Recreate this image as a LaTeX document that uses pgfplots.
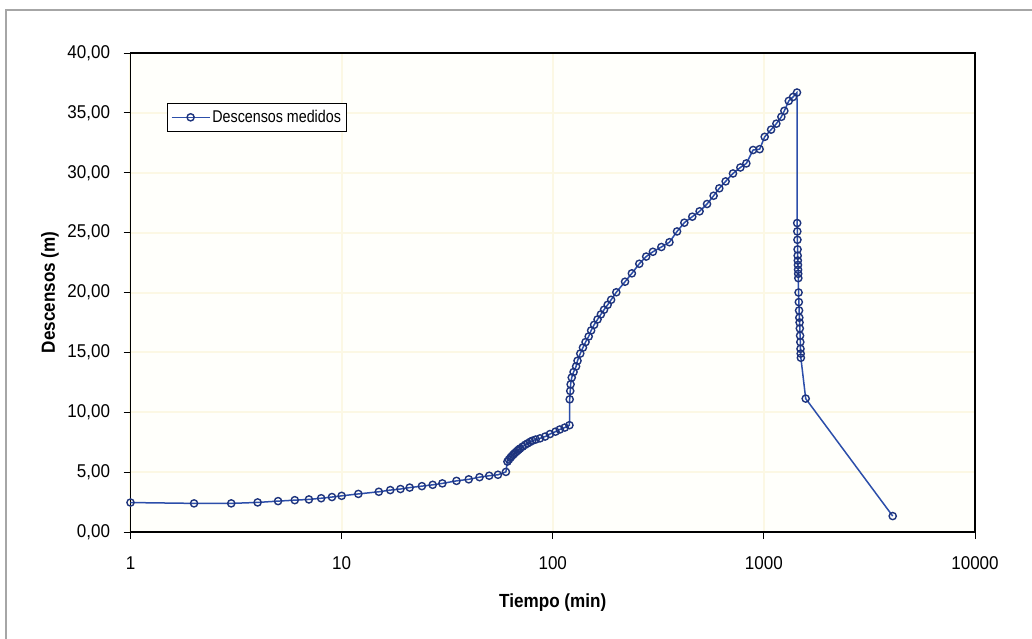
\documentclass[border=0pt]{standalone}
\usepackage{pgfplots}
\pgfplotsset{compat=1.18}
\usepackage{pgfplotstable}
\usepackage{fontspec}
\setmainfont{Liberation Sans}
\newfontfamily\tickfont[FakeStretch=0.92]{Liberation Sans}
\newfontfamily\narrowfont[FakeStretch=0.84]{Liberation Sans}
\newfontfamily\labfont[FakeStretch=0.9]{Liberation Sans}
\definecolor{serieline}{RGB}{44,78,170}
\definecolor{seriemark}{RGB}{30,52,125}
\definecolor{gridy}{RGB}{252,248,228}
\definecolor{bgy}{RGB}{255,255,251}

\pgfplotstableread{
t d
1 2.46
2 2.39
3 2.39
4 2.47
5 2.58
6 2.66
7 2.72
8 2.82
9 2.92
10 3.02
12 3.18
15 3.36
17 3.50
19 3.59
21 3.71
24 3.83
27 3.94
30 4.06
35 4.27
40 4.40
45 4.58
50 4.70
55 4.78
60 5.02
61 5.88
62 6.05
63 6.20
64 6.34
65 6.46
66 6.58
67 6.68
68 6.78
69 6.88
70 6.97
72 7.13
74 7.28
76 7.40
78 7.52
80 7.62
83 7.72
87 7.82
92 7.97
97 8.18
103 8.38
108 8.56
114 8.72
120 8.92
120.3 11.08
121 11.78
121.5 12.33
123 12.90
125.5 13.36
129 13.83
131 14.30
135 14.90
139 15.40
143 15.86
148 16.33
152 16.83
157 17.30
163 17.75
169 18.17
175 18.56
182 18.97
189 19.39
200 20.02
220 20.90
237 21.60
257 22.40
277 23.00
298 23.40
327 23.80
357 24.20
388 25.10
420 25.83
458 26.33
496 26.78
538 27.39
578 28.08
615 28.70
659 29.28
714 29.94
774 30.44
826 30.78
889 31.90
955 31.97
1009 33.00
1082 33.60
1146 34.10
1210 34.67
1250 35.17
1312 36.00
1375 36.33
1435 36.70
1438 25.80
1440 25.10
1442 24.40
1444 23.60
1446 23.08
1448 22.67
1450 22.30
1452 21.90
1454 21.56
1456 21.20
1460 20.00
1464 19.20
1468 18.50
1472 17.90
1476 17.50
1480 17.00
1484 16.40
1488 15.86
1491 15.30
1494 14.90
1497 14.55
1578 11.14
4076 1.33
}\datatable

\begin{document}
\begin{tikzpicture}
\useasboundingbox (-130.5pt,-106pt) rectangle (901.5pt,532pt);
\draw[gray!70, line width=1.5pt] (-124.5pt,-110pt) -- (-124.5pt,522pt) -- (905pt,522pt);
\begin{axis}[
  at={(0pt,0pt)}, anchor=south west,
  scale only axis, width=844.5pt, height=479pt,
  xmode=log, xmin=1, xmax=10000,
  ymin=0, ymax=40,
  xtick={1,10,100,1000,10000},
  xticklabels={1,10,100,1000,10000},
  xminorticks=false,
  ytick={0,5,10,15,20,25,30,35,40},
  yticklabel={\pgfmathprintnumber[fixed,fixed zerofill,precision=2,use comma]{\tick}},
  /pgf/number format/assume math mode=true,
  tick align=outside, major tick length=7pt,
  tick style={black, line width=0.9pt},
  xtick pos=bottom, ytick pos=left,
  axis line style={black, line width=1.2pt},
  axis background/.style={fill=bgy},
  grid=major,
  major grid style={gridy, line width=2pt},
  tick label style={font=\tickfont\fontsize{18.5}{21}\selectfont},
  yticklabel style={xshift=-10pt},
  xticklabel style={yshift=-14pt},
  xlabel={Tiempo (min)},
  ylabel={Descensos (m)},
  label style={font=\labfont\bfseries\fontsize{19}{22}\selectfont},
  xlabel style={at={(axis description cs:0.5,-0.1482)}, anchor=center},
  ylabel style={at={(axis description cs:-0.0953,0.5)}, anchor=center},
  clip=false,
  legend style={at={(rel axis cs:0.0432,0.8956)}, anchor=north west,
    draw=black, line width=0.8pt, fill=white,
    font=\narrowfont\fontsize{17}{19}\selectfont, inner xsep=3.5pt, inner ysep=5pt},
  legend cell align=left,
  legend image code/.code={
    \draw[#1, mark=none] (0pt,0pt) -- (38pt,0pt);
    \draw[#1, only marks] plot coordinates {(19pt,0pt)};
  },
]
\addplot[serieline, line width=1.5pt, mark=o, mark size=3.6pt,
  mark options={draw=seriemark, fill=white, line width=1.4pt, solid}]
  table[x=t, y=d] {\datatable};
\addlegendentry{Descensos medidos}
\end{axis}
\end{tikzpicture}
\end{document}
